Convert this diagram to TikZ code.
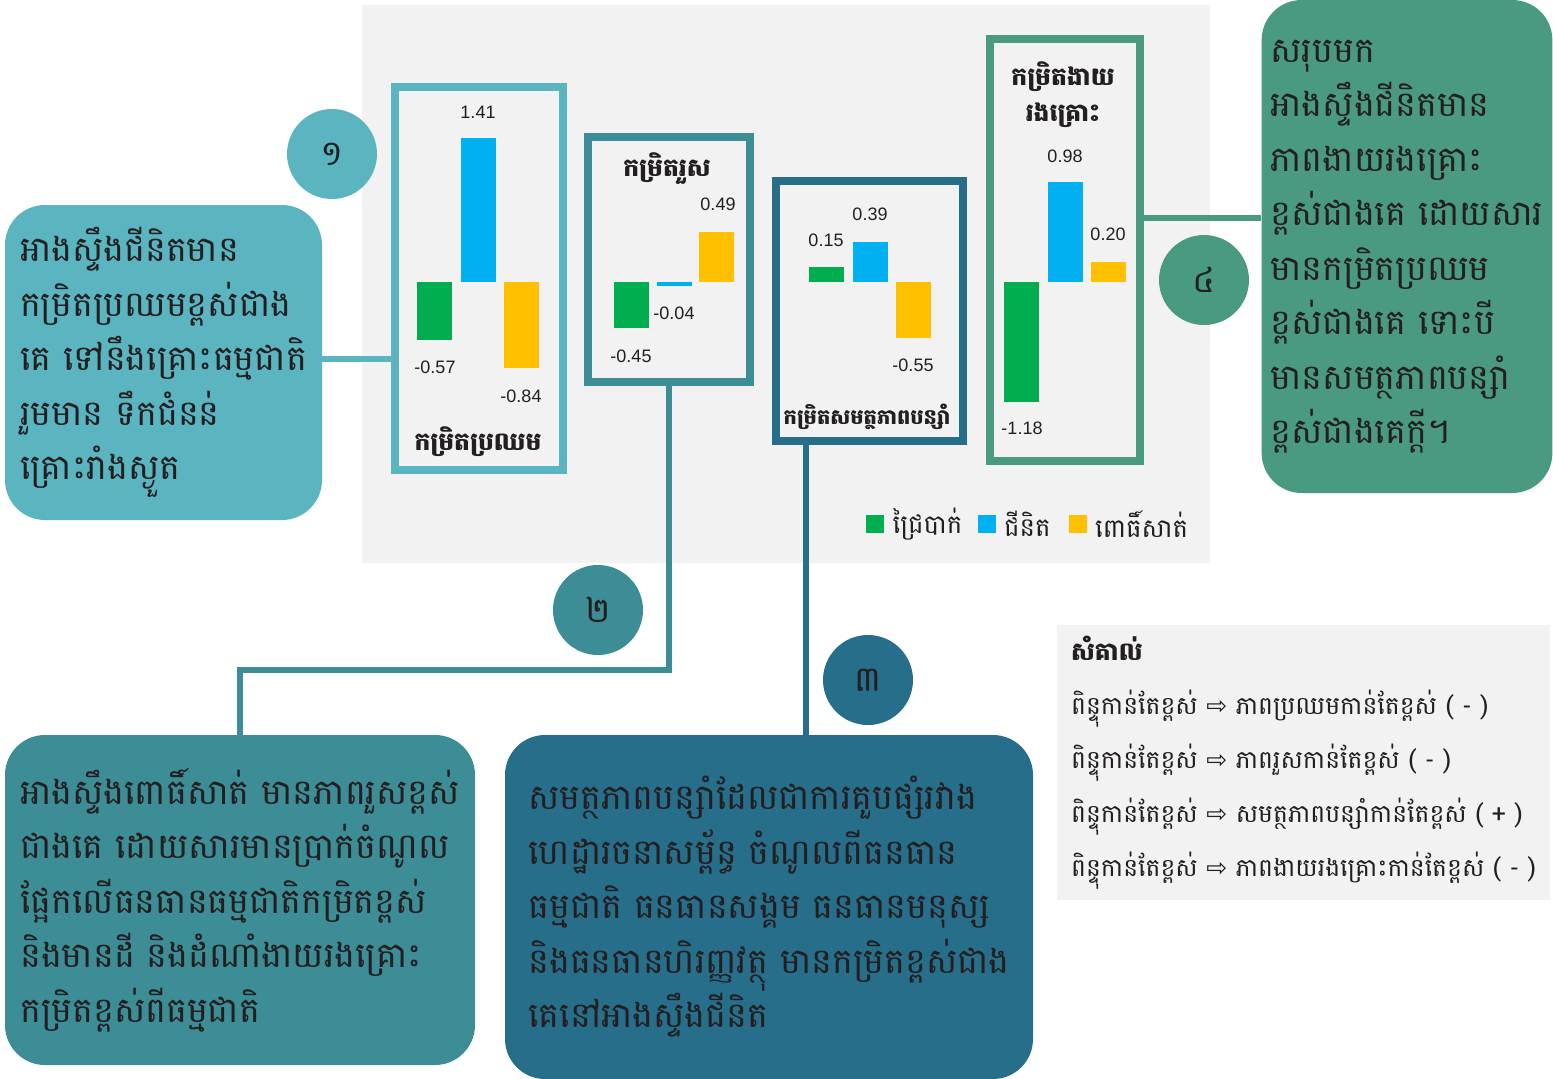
\documentclass[tikz,border=0pt]{standalone}
\usepackage{fontspec}
\usetikzlibrary{positioning}
\newfontfamily\kh[Script=Khmer]{Battambang}
\newfontfamily\num{Liberation Sans}
\newfontfamily\sym{DejaVu Sans}
\definecolor{back}{HTML}{F2F2F2}
\definecolor{ink}{HTML}{231F20}
\definecolor{tealA}{HTML}{5AB5C1}
\definecolor{tealB}{HTML}{3C8D96}
\definecolor{tealC}{HTML}{276E8B}
\definecolor{tealD}{HTML}{4A9A81}
\definecolor{grn}{HTML}{00AE4F}
\definecolor{blu}{HTML}{00B0F0}
\definecolor{ylw}{HTML}{FFC000}
\tikzset{
  barbox/.style={draw=#1, line width=8pt, fill=back},
  textbox/.style={fill=#1, rounded corners=40pt, align=left, inner xsep=12pt, inner ysep=0pt,
    text=ink, font=\kh\fontsize{35}{54.5}\selectfont},
  badge/.style={circle, fill=#1, minimum size=90pt, inner sep=0pt, text=ink,
    font=\kh\fontsize{35}{38}\selectfont},
  link/.style={draw=#1, line width=6pt},
  val/.style={text=ink, font=\num\fontsize{18}{20}\selectfont},
  heading/.style={text=ink, align=center, font=\kh\bfseries\fontsize{25}{36}\selectfont},
  key/.style={fill=#1, minimum size=18pt, inner sep=0pt},
  keytext/.style={text=ink, right=5pt of #1, font=\kh\fontsize{26}{28}\selectfont}
}
\begin{document}
\begin{tikzpicture}[x=1pt,y=-1pt]
  \useasboundingbox (0,0) rectangle (1553,1079);
  \fill[back] (362,5) rectangle (1210,563);
  \node[fill=back, minimum width=493pt, minimum height=275pt, align=left, inner xsep=13pt,
    text=ink, font=\kh\fontsize{25}{54}\selectfont] (note) at (1303.5,762.5)
    {{\bfseries សំគាល់}\\
     ពិន្ទុកាន់តែខ្ពស់ {\sym ⇨} ភាពប្រឈមកាន់តែខ្ពស់ ( - )\\
     ពិន្ទុកាន់តែខ្ពស់ {\sym ⇨} ភាពរួសកាន់តែខ្ពស់ ( - )\\
     ពិន្ទុកាន់តែខ្ពស់ {\sym ⇨} សមត្ថភាពបន្សាំកាន់តែខ្ពស់ ( + )\\
     ពិន្ទុកាន់តែខ្ពស់ {\sym ⇨} ភាពងាយរងគ្រោះកាន់តែខ្ពស់ ( - )};

  \node[barbox=tealA, minimum width=168pt, minimum height=382.5pt] (prayoeum) at (479,278.25) {};
  \node[barbox=tealB, minimum width=162pt, minimum height=245pt] (ruos) at (669,259) {};
  \node[barbox=tealC, minimum width=187.5pt, minimum height=260pt] (bansam) at (869.25,311) {};
  \node[barbox=tealD, minimum width=150pt, minimum height=422pt] (ngay) at (1064.5,250) {};

  \node[textbox=tealA, minimum width=317pt, minimum height=315pt] (t1) at (163.5,362.5)
    {អាងស្ទឹងជីនិតមាន\\កម្រិតប្រឈមខ្ពស់ជាង\\គេ ទៅនឹងគ្រោះធម្មជាតិ\\រួមមាន ទឹកជំនន់\\គ្រោះរាំងស្ងួត};
  \node[textbox=tealB, minimum width=470pt, minimum height=330pt] (t2) at (240,900)
    {អាងស្ទឹងពោធិ៍សាត់ មានភាពរួសខ្ពស់\\ជាងគេ ដោយសារមានប្រាក់ចំណូល\\ផ្អែកលើធនធានធម្មជាតិកម្រិតខ្ពស់\\និងមានដី និងដំណាំងាយរងគ្រោះ\\កម្រិតខ្ពស់ពីធម្មជាតិ};
  \node[textbox=tealC, minimum width=528pt, minimum height=344pt] (t3) at (769,907)
    {សមត្ថភាពបន្សាំដែលជាការគួបផ្សំរវាង\\ហេដ្ឋារចនាសម្ព័ន្ធ ចំណូលពីធនធាន\\ធម្មជាតិ ធនធានសង្គម ធនធានមនុស្ស\\និងធនធានហិរញ្ញវត្ថុ មានកម្រិតខ្ពស់ជាង\\គេនៅអាងស្ទឹងជីនិត};
  \node[textbox=tealD, inner xsep=9pt, minimum width=288pt, minimum height=493pt] (t4) at (1407,246.5)
    {សរុបមក\\អាងស្ទឹងជីនិតមាន\\ភាពងាយរងគ្រោះ\\ខ្ពស់ជាងគេ ដោយសារ\\មានកម្រិតប្រឈម\\ខ្ពស់ជាងគេ ទោះបី\\មានសមត្ថភាពបន្សាំ\\ខ្ពស់ជាងគេក្តី។};

  \coordinate (k1) at (350,359);
  \coordinate (k2) at (240,670);
  \coordinate (k3) at (806,500);
  \coordinate (k4) at (1200,218);
  \draw[link=tealA] (k1 -| t1.east) -- (k1 -| prayoeum.west);
  \draw[link=tealB] (ruos.south) |- (k2) -- (t2.north);
  \draw[link=tealC] (k3 |- bansam.south) -- (k3 |- t3.north);
  \draw[link=tealD] (k4 -| ngay.east) -- (k4 -| t4.west);

  \foreach \x/\v/\c in {417/-0.57/grn,461/1.41/blu,504/-0.84/ylw,
                        614/-0.45/grn,657/-0.04/blu,699/0.49/ylw,
                        809/0.15/grn,853/0.39/blu,896/-0.55/ylw,
                        1004/-1.18/grn,1048/0.98/blu,1091/0.20/ylw}
    \fill[\c] (\x,282) rectangle ++(35,-102*\v);
  \foreach \n/\x/\y/\t in {1/435/367/-0.57,2/478/112/1.41,3/521/396/-0.84,
                           4/631/356/-0.45,5/674/313/-0.04,6/718/204/0.49,
                           7/826/240/0.15,8/870/214/0.39,9/913/365/-0.55,
                           10/1022/428/-1.18,11/1065/156/0.98,12/1108/234/0.20}
    \node[val] (v\n) at (\x,\y) {\t};

  \node[heading] (h1) at (478,442) {កម្រិតប្រឈម};
  \node[heading] (h2) at (667,169) {កម្រិតរួស};
  \node[heading, font=\kh\bfseries\fontsize{21}{36}\selectfont] (h3) at (867,417) {កម្រិតសមត្ថភាពបន្សាំ};
  \node[heading] (h4) at (1063,95) {កម្រិតងាយ\\រងគ្រោះ};

  \node[key=grn] (kg) at (875,524) {};
  \node[keytext=kg] (lg) {ជ្រៃបាក់};
  \node[key=blu] (kb) at (986.5,524) {};
  \node[keytext=kb] (lb) {ជីនិត};
  \node[key=ylw] (ky) at (1077.5,524) {};
  \node[keytext=ky] (ly) {ពោធិ៍សាត់};

  \node[badge=tealA] (n1) at (332,154) {១};
  \node[badge=tealB] (n2) at (598,610) {២};
  \node[badge=tealC] (n3) at (868,680) {៣};
  \node[badge=tealD] (n4) at (1204,280) {៤};
\end{tikzpicture}
\end{document}
